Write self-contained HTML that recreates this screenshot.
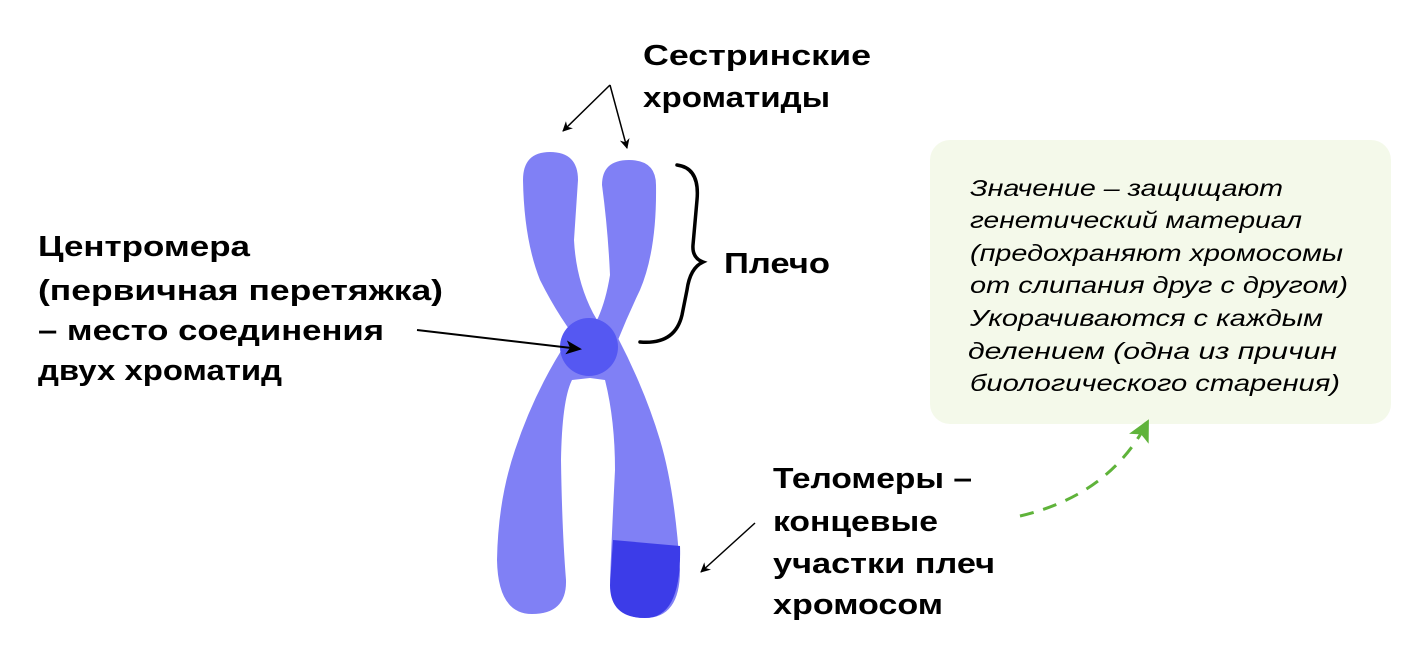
<!DOCTYPE html>
<html><head><meta charset="utf-8"><style>
html,body{margin:0;padding:0;background:#fff;}
svg{display:block;}
.b{font-family:"Liberation Sans",sans-serif;font-weight:bold;font-size:29px;fill:#000;}
.i{font-family:"Liberation Sans",sans-serif;font-style:italic;font-size:23px;fill:#000;}
</style></head><body>
<svg width="1410" height="664" viewBox="0 0 1410 664" xmlns="http://www.w3.org/2000/svg">
<defs>
<marker id="ah" markerWidth="10" markerHeight="10" refX="9" refY="5" orient="auto" markerUnits="userSpaceOnUse"><path d="M0,0 L10,5 L0,10 L3,5 Z" fill="#000"/></marker>
<marker id="ah2" markerWidth="16" markerHeight="14" refX="14" refY="7" orient="auto" markerUnits="userSpaceOnUse"><path d="M0,0 L16,7 L0,14 L4,7 Z" fill="#000"/></marker>
<marker id="ga" markerWidth="24" markerHeight="22" refX="20" refY="11" orient="auto" markerUnits="userSpaceOnUse"><path d="M0,0 L22,11 L0,22 L5,11 Z" fill="#5fb33a"/></marker>
</defs>
<rect x="930" y="140" width="461" height="284" rx="20" fill="#f4f9ea"/>
<g fill="#8080f5">
<path d="M523,180 Q523,152 550,152 Q578,152 578,180 L574,240 Q576,280 593,313 L600,325 L585,350 Q560,320 540,280 Q524,240 523,180 Z"/>
<path d="M602,185 Q602,160 629,160 Q656,160 656,185 Q657,250 640,290 Q628,315 618,340 L612,356 L590,330 L598,318 Q606,300 610,275 Q608,230 602,185 Z"/>
<path d="M568,340 Q535,390 515,450 Q498,500 497,560 Q498,614 532,614 Q567,614 566,580 Q562,530 561,460 Q562,400 572,380 L590,378 L605,380 Q615,420 615,470 Q612,530 610,580 Q611,618 645,618 Q680,618 680,570 Q675,490 660,440 Q645,390 618,338 Z"/>
</g>
<path d="M613,540 L680,546 Q682,618 645,618 Q610,618 610,585 Z" fill="#3c3ce8"/>
<circle cx="589" cy="347" r="29" fill="#5558f2"/>
<line x1="610" y1="85" x2="563" y2="131" stroke="#000" stroke-width="1.5" marker-end="url(#ah)"/>
<line x1="610" y1="85" x2="627" y2="148" stroke="#000" stroke-width="1.5" marker-end="url(#ah)"/>
<line x1="417" y1="330" x2="580" y2="349" stroke="#000" stroke-width="2" marker-end="url(#ah2)"/>
<line x1="755" y1="523" x2="701" y2="572" stroke="#000" stroke-width="1.5" marker-end="url(#ah)"/>
<path d="M677,165 Q700,168 697,200 L693,245 Q692,258 703,262 Q690,268 687,290 L682,315 Q675,345 640,342" fill="none" stroke="#000" stroke-width="3.5" stroke-linecap="round"/>
<path d="M1020,516 Q1110,495 1148,421" fill="none" stroke="#5fb33a" stroke-width="3" stroke-dasharray="14,10" marker-end="url(#ga)"/>
<text class="b" x="643" y="65" textLength="228" lengthAdjust="spacingAndGlyphs">Сестринские</text>
<text class="b" x="643" y="107" textLength="187" lengthAdjust="spacingAndGlyphs">хроматиды</text>
<text class="b" x="38" y="256" textLength="212" lengthAdjust="spacingAndGlyphs">Центромера</text>
<text class="b" x="38" y="300" textLength="405" lengthAdjust="spacingAndGlyphs">(первичная перетяжка)</text>
<text class="b" x="38" y="340" textLength="346" lengthAdjust="spacingAndGlyphs">– место соединения</text>
<text class="b" x="38" y="380" textLength="244" lengthAdjust="spacingAndGlyphs">двух хроматид</text>
<text class="b" x="724" y="273" textLength="106" lengthAdjust="spacingAndGlyphs">Плечо</text>
<text class="b" x="773" y="488" textLength="199" lengthAdjust="spacingAndGlyphs">Теломеры –</text>
<text class="b" x="773" y="531" textLength="165" lengthAdjust="spacingAndGlyphs">концевые</text>
<text class="b" x="773" y="573" textLength="222" lengthAdjust="spacingAndGlyphs">участки плеч</text>
<text class="b" x="773" y="614" textLength="170" lengthAdjust="spacingAndGlyphs">хромосом</text>
<text class="i" x="970" y="196" textLength="313" lengthAdjust="spacingAndGlyphs">Значение – защищают</text>
<text class="i" x="970" y="228" textLength="332" lengthAdjust="spacingAndGlyphs">генетический материал</text>
<text class="i" x="970" y="261" textLength="373" lengthAdjust="spacingAndGlyphs">(предохраняют хромосомы</text>
<text class="i" x="970" y="293" textLength="378" lengthAdjust="spacingAndGlyphs">от слипания друг с другом)</text>
<text class="i" x="970" y="326" textLength="353" lengthAdjust="spacingAndGlyphs">Укорачиваются с каждым</text>
<text class="i" x="968" y="359" textLength="369" lengthAdjust="spacingAndGlyphs">делением (одна из причин</text>
<text class="i" x="970" y="391" textLength="370" lengthAdjust="spacingAndGlyphs">биологического старения)</text>
</svg>
</body></html>
